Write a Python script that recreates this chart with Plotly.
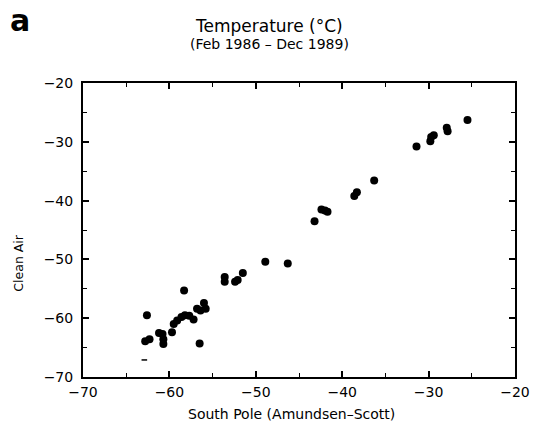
import plotly.graph_objects as go

# South Pole (x) vs Clean Air (y) monthly temperatures, °C
south_pole = [-25.5, -27.9, -27.8, -29.4, -29.7, -29.8, -31.4, -36.3, -38.3, -38.6,
              -42.4, -42.0, -41.7, -43.2, -46.3, -48.9,
              -53.6, -53.6, -52.4, -52.1, -51.5, -58.3,
              -56.0, -55.8, -56.8, -56.4,
              -59.5, -59.1, -58.6, -58.2, -57.7, -57.2,
              -62.6, -59.7, -61.2, -60.8, -60.7, -60.7,
              -62.8, -62.3, -56.5]
clean_air = [-26.3, -27.6, -28.2, -28.9, -29.2, -29.9, -30.8, -36.6, -38.6, -39.2,
             -41.5, -41.7, -41.9, -43.5, -50.7, -50.4,
             -53.0, -53.8, -53.8, -53.5, -52.3, -55.3,
             -57.4, -58.4, -58.4, -58.7,
             -61.0, -60.4, -59.8, -59.5, -59.6, -60.2,
             -59.5, -62.4, -62.5, -62.7, -63.6, -64.4,
             -63.9, -63.6, -64.3]
stray_x = [-62.9]
stray_y = [-67.1]

tick_vals = [-70, -60, -50, -40, -30, -20]

FONT = "DejaVu Sans"

fig = go.Figure()
fig.add_trace(go.Scatter(x=south_pole, y=clean_air, mode="markers",
                         marker=dict(color="black", size=8, line=dict(width=0)),
                         showlegend=False))
fig.add_trace(go.Scatter(x=stray_x, y=stray_y, mode="markers",
                         marker=dict(color="black", size=4, symbol="line-ew",
                                     line=dict(width=1.5, color="black")),
                         showlegend=False))

axis_common = dict(
    showgrid=False, zeroline=False, showline=True, linecolor="black", linewidth=2,
    mirror="ticks", ticks="inside", ticklen=6, tickwidth=1.5, tickcolor="black",
    tickvals=tick_vals, tickfont=dict(family=FONT, size=14, color="black"),
    minor=dict(dtick=5, ticks="inside", ticklen=4, tickwidth=1, tickcolor="black"),
)

fig.update_xaxes(range=[-70, -20], **axis_common, ticklabelstandoff=1)
fig.update_yaxes(range=[-70, -20], **axis_common, ticklabelstandoff=5)

# annotations given as (text, x_px, y_px_from_top, size, angle)
ann_specs = [
    ("Temperature (°C)", 274, 26, 17, 0),
    ("(Feb 1986 – Dec 1989)", 274, 44, 14, 0),
    ("<b>a</b>", 18, 20, 30, 0),
    ("South Pole (Amundsen–Scott)", 297, 414, 14, 0),
    ("Clean Air", 16, 263, 12.5, -90),
]

L, R, T, B = 83, 16, 83, 49
W, H = 542, 426
pw, ph = W - L - R, H - T - B

annotations = []
for text, xp, yp, size, ang in ann_specs:
    annotations.append(dict(
        text=text, x=(xp - L) / pw, y=((H - yp) - B) / ph,
        xref="paper", yref="paper", xanchor="center", yanchor="middle",
        showarrow=False, textangle=ang, font=dict(size=size, family=FONT, color="black"),
    ))

fig.update_layout(
    width=W, height=H,
    margin=dict(l=L, r=R, t=T, b=B),
    paper_bgcolor="white", plot_bgcolor="white",
    font=dict(family=FONT, color="black"),
    annotations=annotations,
)

fig.write_html("out.html")
